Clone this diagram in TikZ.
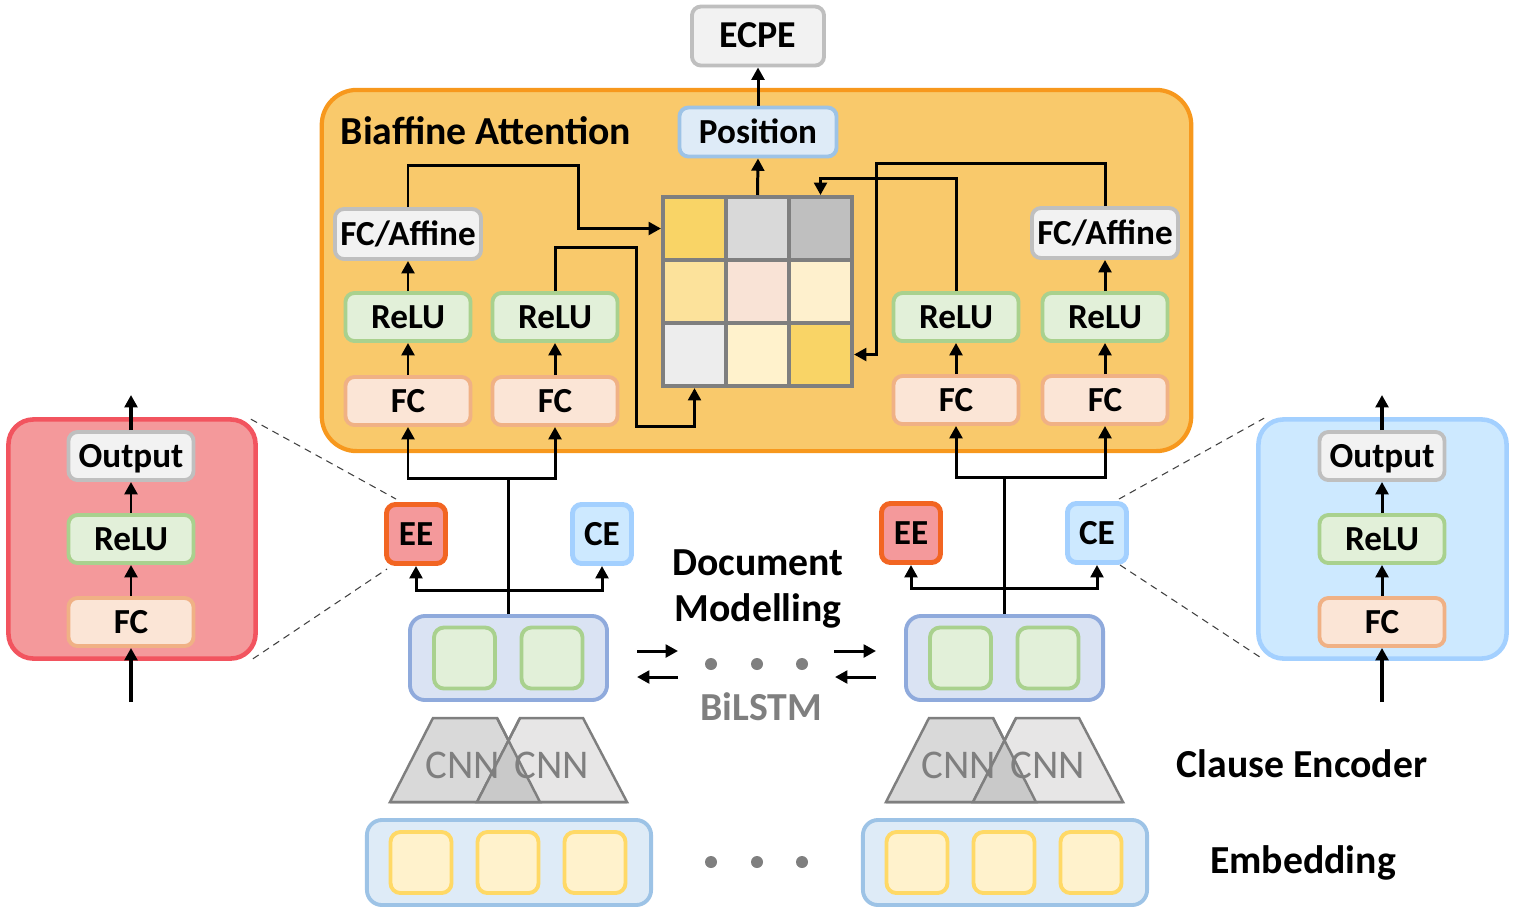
\documentclass[tikz,border=0pt]{standalone}
\usepackage{fontspec}
\setmainfont{Carlito}
\usetikzlibrary{arrows.meta}
\definecolor{orgF}{HTML}{F9C96B}\definecolor{orgD}{HTML}{F7981D}
\definecolor{redF}{HTML}{F4999B}\definecolor{redD}{HTML}{F2545F}
\definecolor{eeD}{HTML}{F26522}
\definecolor{bluF}{HTML}{CDE9FF}\definecolor{bluD}{HTML}{A3D0FF}
\definecolor{posF}{HTML}{DEEBF7}\definecolor{posD}{HTML}{9DC3E6}
\definecolor{gryF}{HTML}{F2F2F2}\definecolor{gryD}{HTML}{BFBFBF}
\definecolor{grnF}{HTML}{E2F0D9}\definecolor{grnD}{HTML}{A9D18E}
\definecolor{pchF}{HTML}{FBE5D6}\definecolor{pchD}{HTML}{F0B185}
\definecolor{lstF}{HTML}{DAE3F3}\definecolor{lstD}{HTML}{8FAADC}
\definecolor{yelF}{HTML}{FFF2CC}\definecolor{yelD}{HTML}{FFD966}
\definecolor{darkg}{HTML}{7F7F7F}
\definecolor{cnnA}{HTML}{D9D9D9}\definecolor{cnnB}{HTML}{E7E6E6}\definecolor{cnnC}{HTML}{C9C9C9}

\begin{document}
\begin{tikzpicture}[x=0.01cm, y=-0.01cm,
  box/.style={draw, rounded corners=0.09cm, line width=1.1pt, inner sep=0pt,
    minimum width=1.25cm, minimum height=0.48cm, text height=0.64em, text depth=0pt,
    font=\fontsize{10}{11}\selectfont\bfseries},
  relubox/.style={box, fill=grnF, draw=grnD},
  fcbox/.style={box, fill=pchF, draw=pchD},
  graybox/.style={box, fill=gryF, draw=gryD},
  eebox/.style={box, fill=redF, draw=eeD, line width=1.4pt, minimum size=0.59cm},
  cebox/.style={box, fill=bluF, draw=bluD, line width=1.4pt, minimum size=0.59cm},
  cell/.style={draw=darkg, line width=0.04cm, minimum size=0.63cm, inner sep=0pt},
  slot/.style={draw, rounded corners=0.1cm, line width=1.1pt, minimum width=0.61cm, minimum height=0.61cm},
  bigt/.style={font=\fontsize{11.3}{13}\selectfont\bfseries, inner sep=0pt, align=center},
  cnnt/.style={font=\fontsize{11.6}{13}\selectfont, text=darkg, inner sep=0pt},
  arr/.style={-{Triangle[length=3.5pt,width=3.6pt]}, line width=0.85pt},
  dashline/.style={dash pattern=on 2pt off 1.5pt, line width=0.3pt, black!75}]
\useasboundingbox (0,0) rectangle (1515,911);

\node (biaf) [draw=orgD, fill=orgF, line width=1.2pt, rounded corners=0.35cm, minimum width=8.69cm, minimum height=3.61cm] at (756.5,270.5) {};
\node[bigt, anchor=west] (titl) at (340,131) {Biaffine Attention};
\node[graybox, minimum width=1.32cm, minimum height=0.59cm, font=\fontsize{10.8}{12}\selectfont\bfseries] (ecpe) at (758,36) {ECPE};
\node[box, fill=posF, draw=posD, minimum width=1.57cm, minimum height=0.49cm] (pos) at (758,132) {Position};

\node[graybox, minimum width=1.46cm, minimum height=0.50cm] (aff1) at (408,234) {FC/Affine};
\node[relubox] (relu1) at (408,317) {ReLU};
\node[relubox] (relu2) at (555,317) {ReLU};
\node[fcbox] (fc1) at (408,401) {FC};
\node[fcbox] (fc2) at (555,401) {FC};
\node[graybox, minimum width=1.46cm, minimum height=0.50cm] (aff2) at (1105,233) {FC/Affine};
\node[relubox] (relu3) at (956,317) {ReLU};
\node[relubox] (relu4) at (1105,317) {ReLU};
\node[fcbox] (fc3) at (956,400) {FC};
\node[fcbox] (fc4) at (1105,400) {FC};

\foreach \n/\px/\py/\c in {11/694.5/228.5/F9D466, 12/757.5/228.5/D9D9D9, 13/820.5/228.5/BFBFBF,
    21/694.5/291.5/FCE29B, 22/757.5/291.5/F9E3D6, 23/820.5/291.5/FEF0CD,
    31/694.5/354.5/EDEDED, 32/757.5/354.5/FFF2CC, 33/820.5/354.5/F9D466}
  {\definecolor{cc}{HTML}{\c}\node[cell, fill=cc] (c\n) at (\px,\py) {};}

\draw[arr] (pos.north) -- (ecpe.south);
\draw[arr] (c12.north) -- (pos.south);
\draw[arr] (fc1.north) -- (relu1.south);
\draw[arr] (relu1.north) -- (aff1.south);
\draw[arr] (fc2.north) -- (relu2.south);
\draw[arr] (fc3.north) -- (relu3.south);
\draw[arr] (fc4.north) -- (relu4.south);
\draw[arr] (relu4.north) -- (aff2.south);
\draw[arr] (aff1.north) |- (578,165) |- (c11.west);
\draw[arr] (relu2.north) |- (636,247) -- (636,426) -| (c31.south);
\draw[arr] (relu3.north) -- (956,178) -| (c13.north);
\draw[arr] (aff2.north) |- (876,163) |- (c33.east);

% sentence side
\foreach \i/\dx in {1/0,2/496} {
  \draw[line width=0.7pt, draw=darkg, fill=cnnA] (390+\dx,802) -- (433+\dx,718) -- (497+\dx,718) -- (540+\dx,802) -- cycle;
  \draw[line width=0.7pt, draw=darkg, fill=cnnB] (477+\dx,802) -- (520+\dx,718) -- (583+\dx,718) -- (627+\dx,802) -- cycle;
  \fill[cnnC] (477+\dx,802) -- (508.5+\dx,740.5) -- (540+\dx,802) -- cycle;
  \draw[line width=0.7pt, draw=darkg] (497+\dx,718) -- (540+\dx,802) (520+\dx,718) -- (477+\dx,802) (390+\dx,802) -- (627+\dx,802);
  \node[cnnt] at (463+\dx,765) {CNN};
  \node[cnnt] at (552+\dx,765) {CNN};
  \node[draw=posD, fill=posF, line width=1.1pt, rounded corners=0.15cm, minimum width=2.84cm, minimum height=0.85cm] (emb\i) at (509+\dx,862.5) {};
  \foreach \sx in {421,508,595}
    \node[slot, fill=yelF, draw=yelD] at (\sx+\dx,862.5) {};
  \node[draw=lstD, fill=lstF, line width=1.1pt, rounded corners=0.15cm, minimum width=1.97cm, minimum height=0.84cm] (lstm\i) at (508.5+\dx,658) {};
  \foreach \sx in {464.5,552}
    \node[slot, fill=grnF, draw=grnD] at (\sx+\dx,658) {};
}
\node[eebox] (ee1) at (416,534) {EE};
\node[cebox] (ce1) at (602,534) {CE};
\node[eebox] (ee2) at (911,533) {EE};
\node[cebox] (ce2) at (1097,533) {CE};

\coordinate (jl) at (508.5,478);
\coordinate (kl) at (508.5,590);
\coordinate (jr) at (1004.5,477);
\coordinate (kr) at (1004.5,588);
\draw[arr] (lstm1.north) -- (jl) -| (fc1.south);
\draw[arr] (jl) -| (fc2.south);
\draw[arr] (kl) -| (ee1.south);
\draw[arr] (kl) -| (ce1.south);
\draw[arr] (lstm2.north) -- (jr) -| (fc3.south);
\draw[arr] (jr) -| (fc4.south);
\draw[arr] (kr) -| (ee2.south);
\draw[arr] (kr) -| (ce2.south);

\draw[arr] (637,651) -- (678,651);
\draw[arr] (678,677) -- (637,677);
\draw[arr] (834,651) -- (876,651);
\draw[arr] (876,677) -- (835,677);
\foreach \x in {711,757,802} {
  \fill[darkg] (\x,664) circle [radius=0.06cm];
  \fill[darkg] (\x,862) circle [radius=0.06cm];
}
\node[bigt] (docm) at (758,589) {Document\\Modelling};
\node[bigt, text=darkg] (bil) at (761,707) {BiLSTM};
\node[bigt] (clen) at (1302,764) {Clause Encoder};
\node[bigt] (embl) at (1303,863) {Embedding};

% emotion / cause heads
\node (pl) [draw=redD, fill=redF, line width=1.3pt, rounded corners=0.25cm, minimum width=2.47cm, minimum height=2.39cm] at (132,539) {};
\node (pr) [draw=bluD, fill=bluF, line width=1.3pt, rounded corners=0.25cm, minimum width=2.48cm, minimum height=2.39cm] at (1382.5,539) {};
\foreach \s/\px in {L/131,R/1382} {
  \node[graybox] (out\s) at (\px,456) {Output};
  \node[relubox] (relu\s) at (\px,539) {ReLU};
  \node[fcbox] (fc\s) at (\px,622) {FC};
  \coordinate (in\s) at (\px,702);
  \coordinate (top\s) at (\px,395);
  \draw[arr, line width=1.1pt] (in\s) -- (fc\s.south);
  \draw[arr] (fc\s.north) -- (relu\s.south);
  \draw[arr] (relu\s.north) -- (out\s.south);
  \draw[arr, line width=1.1pt] (out\s.north) -- (top\s);
}
\draw[dashline] ([shift={(-7,2)}]pl.north east) -- ([shift={(12,-3)}]ee1.north west);
\draw[dashline] ([shift={(-5,-2)}]pl.south east) -- ([shift={(3,3)}]ee1.south west);
\draw[dashline] ([shift={(-10,-2)}]ce2.north east) -- ([shift={(8,1)}]pr.north west);
\draw[dashline] ([shift={(-9,0)}]ce2.south east) -- ([shift={(5,-3)}]pr.south west);
\end{tikzpicture}
\end{document}
